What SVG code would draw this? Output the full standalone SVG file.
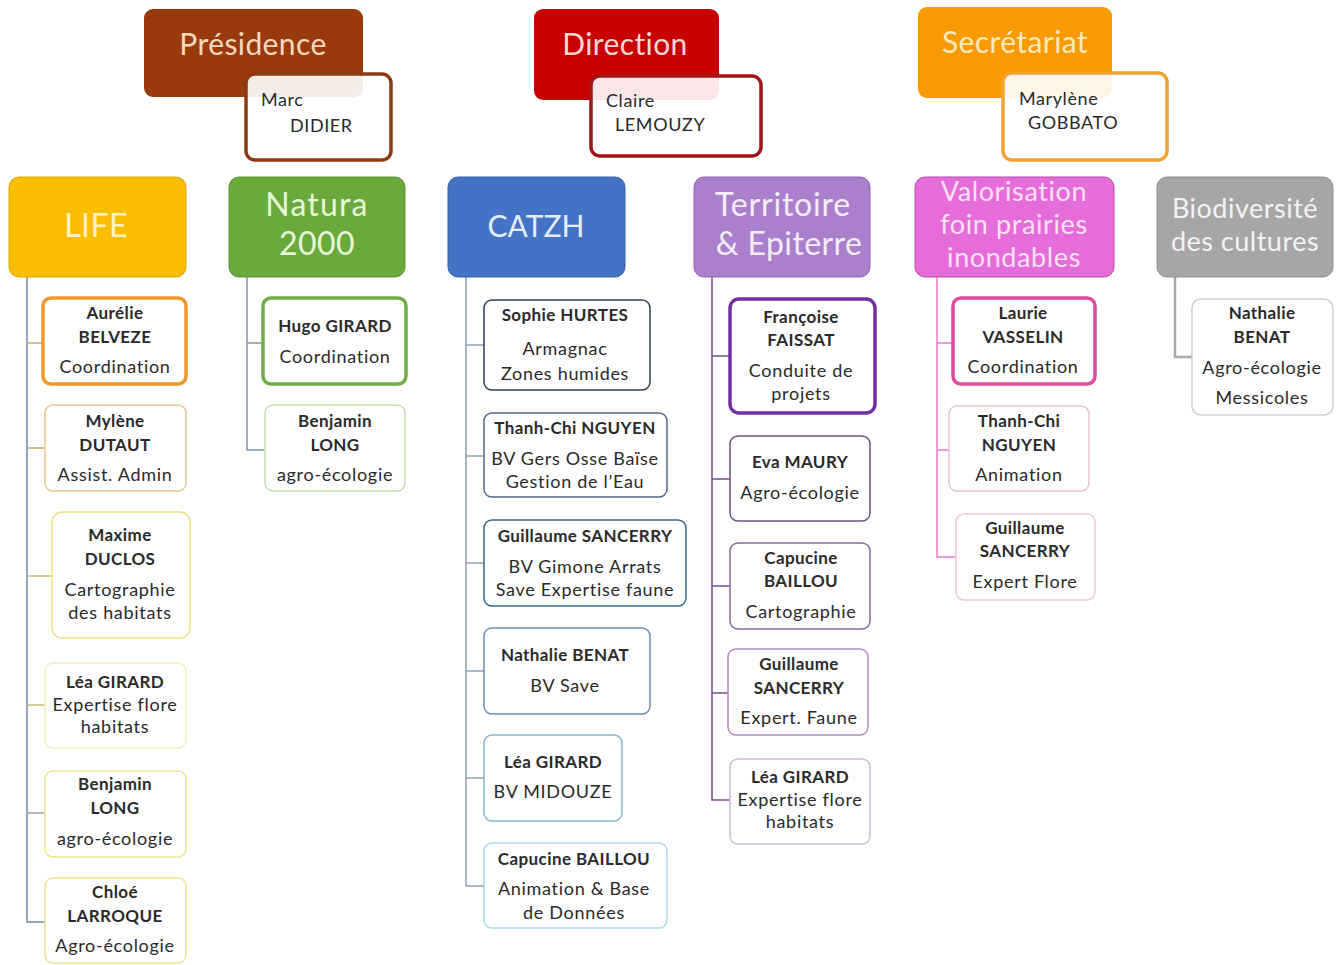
<svg xmlns="http://www.w3.org/2000/svg" width="1341" height="965" viewBox="0 0 1341 965">
<style>
text{font-family:Lato,"Liberation Sans",sans-serif;}
.h{fill:#fff;font-size:30px;text-anchor:middle;letter-spacing:0.4px;}
.t{font-size:18px;fill:#2a2a2a;text-anchor:middle;letter-spacing:0.7px;}
.n{font-weight:bold;font-size:17px;letter-spacing:0.4px;}
.tl{font-size:18px;fill:#2a2a2a;letter-spacing:0.6px;}
.box{fill:#fff;stroke-width:1.5;}
.thick{stroke-width:3.5;}
.conn line,.conn polyline{fill:none;stroke-width:1.5;}
</style>
<rect width="1341" height="965" fill="#fff"/>

<g id="presidence">
<rect x="144" y="9" width="219" height="88" rx="9" fill="#9a3a0c"/>
<text class="h" x="253" y="55" style="fill:#f8d8bd">Présidence</text>
<rect x="246" y="74" width="145" height="86" rx="9" fill="#fff" fill-opacity="0.9" stroke="#8b3a12" stroke-width="3.5"/>
<text class="tl" x="261" y="106">Marc</text>
<text class="tl" x="290" y="132">DIDIER</text>
</g>

<g id="direction">
<rect x="534" y="9" width="185" height="91" rx="9" fill="#c80000"/>
<text class="h" x="625" y="55" style="fill:#fbd5d5">Direction</text>
<rect x="591" y="76" width="170" height="80" rx="9" fill="#fff" fill-opacity="0.9" stroke="#a01515" stroke-width="3.5"/>
<text class="tl" x="606" y="107">Claire</text>
<text class="tl" x="615" y="131">LEMOUZY</text>
</g>

<g id="secretariat">
<rect x="918" y="7" width="194" height="91" rx="9" fill="#f89a00"/>
<text class="h" x="1015" y="53" style="fill:#fde8b8">Secrétariat</text>
<rect x="1003" y="73" width="164" height="87" rx="9" fill="#fff" fill-opacity="0.9" stroke="#f0a232" stroke-width="3.5"/>
<text class="tl" x="1019" y="105">Marylène</text>
<text class="tl" x="1028" y="129">GOBBATO</text>
</g>

<g class="conn">
<polyline points="27,277 27,922 45,922" stroke="#6f8aa8"/>
<line x1="27" y1="343" x2="43" y2="343" stroke="#c8a868"/>
<line x1="27" y1="448" x2="45" y2="448" stroke="#c8a868"/>
<line x1="27" y1="576" x2="52" y2="576" stroke="#c8b878"/>
<line x1="27" y1="705" x2="45" y2="705" stroke="#c8b878"/>
<line x1="27" y1="813" x2="45" y2="813" stroke="#a0a0a0"/>

<polyline points="247,277 247,450 265,450" stroke="#7f95b0"/>
<line x1="247" y1="343" x2="263" y2="343" stroke="#8a9a80"/>

<polyline points="466,277 466,886 484,886" stroke="#8aa0b8"/>
<line x1="466" y1="345" x2="484" y2="345" stroke="#8aa0b8"/>
<line x1="466" y1="456" x2="484" y2="456" stroke="#8aa0b8"/>
<line x1="466" y1="563" x2="484" y2="563" stroke="#8aa0b8"/>
<line x1="466" y1="671" x2="484" y2="671" stroke="#8aa0c8"/>
<line x1="466" y1="778" x2="484" y2="778" stroke="#8aa0b8"/>

<polyline points="712,277 712,800 730,800" stroke="#7a4a8c"/>
<line x1="712" y1="356" x2="730" y2="356" stroke="#7a4a8c"/>
<line x1="712" y1="479" x2="730" y2="479" stroke="#7a4a8c"/>
<line x1="712" y1="586" x2="730" y2="586" stroke="#7a4a8c"/>
<line x1="712" y1="693" x2="728" y2="693" stroke="#7a4a8c"/>

<polyline points="937,277 937,557 956,557" stroke="#e37ccc"/>
<line x1="937" y1="343" x2="953" y2="343" stroke="#e37ccc"/>
<line x1="937" y1="450" x2="949" y2="450" stroke="#e37ccc"/>

<polyline points="1175,277 1175,357 1192,357" stroke="#a8a8a8" style="stroke-width:2.5"/>
</g>

<g id="life">
<rect x="9" y="177" width="177" height="100" rx="10" fill="#fbbd00" stroke="#e0a800"/>
<text class="h" x="96" y="237" style="font-size:32px;fill:#fff3c0">LIFE</text>
</g>
<g id="natura">
<rect x="229" y="177" width="176" height="100" rx="10" fill="#6aaa3c" stroke="#5a9430"/>
<text class="h" x="317" y="216" style="font-size:32px;fill:#e6f7d8;letter-spacing:1.2px">Natura</text>
<text class="h" x="317" y="255" style="font-size:32px;fill:#e6f7d8">2000</text>
</g>
<g id="catzh">
<rect x="448" y="177" width="177" height="100" rx="10" fill="#4472c4" stroke="#3a62a8"/>
<text class="h" x="536" y="237" style="font-size:30px;fill:#e4ecfa;letter-spacing:0">CATZH</text>
</g>
<g id="territoire">
<rect x="694" y="177" width="176" height="100" rx="10" fill="#aa80cc" stroke="#9060b0"/>
<text class="h" x="783" y="216" style="font-size:32px;fill:#f3ecfa;letter-spacing:0.8px">Territoire</text>
<text class="h" x="789" y="255" style="font-size:32px;fill:#f3ecfa">&amp; Epiterre</text>
</g>
<g id="valorisation">
<rect x="915" y="177" width="199" height="100" rx="10" fill="#e66cd9" stroke="#b84aa8"/>
<text class="h" x="1014" y="201" style="font-size:27px;fill:#fbe0f6;letter-spacing:0.6px">Valorisation</text>
<text class="h" x="1014" y="234" style="font-size:27px;fill:#fbe0f6;letter-spacing:0.6px">foin prairies</text>
<text class="h" x="1014" y="267" style="font-size:27px;fill:#fbe0f6;letter-spacing:0.6px">inondables</text>
</g>
<g id="biodiversite">
<rect x="1157" y="177" width="176" height="100" rx="10" fill="#a6a6a6" stroke="#909090"/>
<text class="h" x="1245" y="218" style="font-size:27px;fill:#f2f2f2;letter-spacing:0.5px">Biodiversité</text>
<text class="h" x="1245" y="251" style="font-size:27px;fill:#f2f2f2;letter-spacing:0.5px">des cultures</text>
</g>

<!-- LIFE children -->
<g id="belveze">
<rect class="box thick" x="43" y="298" width="143" height="86" rx="8" stroke="#f0962a"/>
<text class="t n" x="115" y="319">Aurélie</text>
<text class="t n" x="115" y="343">BELVEZE</text>
<text class="t" x="115" y="373">Coordination</text>
</g>
<g id="dutaut">
<rect class="box" x="45" y="405" width="141" height="86" rx="8" stroke="#e8c890"/>
<text class="t n" x="115" y="427">Mylène</text>
<text class="t n" x="115" y="451">DUTAUT</text>
<text class="t" x="115" y="481">Assist. Admin</text>
</g>
<g id="duclos">
<rect class="box" x="52" y="512" width="138" height="126" rx="10" stroke="#ece28a"/>
<text class="t n" x="120" y="541">Maxime</text>
<text class="t n" x="120" y="565">DUCLOS</text>
<text class="t" x="120" y="596">Cartographie</text>
<text class="t" x="120" y="619">des habitats</text>
</g>
<g id="girard-life">
<rect class="box" x="45" y="663" width="141" height="85" rx="8" stroke="#f3edc0"/>
<text class="t n" x="115" y="688">Léa GIRARD</text>
<text class="t" x="115" y="711">Expertise flore</text>
<text class="t" x="115" y="733">habitats</text>
</g>
<g id="long-life">
<rect class="box" x="45" y="771" width="141" height="86" rx="8" stroke="#ede58e"/>
<text class="t n" x="115" y="790">Benjamin</text>
<text class="t n" x="115" y="814">LONG</text>
<text class="t" x="115" y="845">agro-écologie</text>
</g>
<g id="larroque">
<rect class="box" x="45" y="878" width="141" height="85" rx="8" stroke="#ede58e"/>
<text class="t n" x="115" y="898">Chloé</text>
<text class="t n" x="115" y="922">LARROQUE</text>
<text class="t" x="115" y="952">Agro-écologie</text>
</g>

<!-- Natura children -->
<g id="hugo">
<rect class="box thick" x="263" y="298" width="143" height="86" rx="8" stroke="#70ad47"/>
<text class="t n" x="335" y="332">Hugo GIRARD</text>
<text class="t" x="335" y="363">Coordination</text>
</g>
<g id="long-natura">
<rect class="box" x="265" y="405" width="140" height="86" rx="8" stroke="#c5e0b0"/>
<text class="t n" x="335" y="427">Benjamin</text>
<text class="t n" x="335" y="451">LONG</text>
<text class="t" x="335" y="481">agro-écologie</text>
</g>

<!-- CATZH children -->
<g id="hurtes">
<rect class="box" x="484" y="300" width="166" height="90" rx="8" stroke="#2f3f55"/>
<text class="t n" x="565" y="321">Sophie HURTES</text>
<text class="t" x="565" y="355">Armagnac</text>
<text class="t" x="565" y="380">Zones humides</text>
</g>
<g id="nguyen-catzh">
<rect class="box" x="484" y="413" width="183" height="84" rx="8" stroke="#506a88"/>
<text class="t n" x="575" y="434">Thanh-Chi NGUYEN</text>
<text class="t" x="575" y="465">BV Gers Osse Baïse</text>
<text class="t" x="575" y="488">Gestion de l’Eau</text>
</g>
<g id="sancerry-catzh">
<rect class="box" x="484" y="520" width="202" height="86" rx="8" stroke="#3a6585"/>
<text class="t n" x="585" y="542">Guillaume SANCERRY</text>
<text class="t" x="585" y="573">BV Gimone Arrats</text>
<text class="t" x="585" y="596">Save Expertise faune</text>
</g>
<g id="benat-catzh">
<rect class="box" x="484" y="628" width="166" height="86" rx="8" stroke="#6a8fb0"/>
<text class="t n" x="565" y="661">Nathalie BENAT</text>
<text class="t" x="565" y="692">BV Save</text>
</g>
<g id="girard-catzh">
<rect class="box" x="484" y="735" width="138" height="86" rx="8" stroke="#8ab4cc"/>
<text class="t n" x="553" y="768">Léa GIRARD</text>
<text class="t" x="553" y="798">BV MIDOUZE</text>
</g>
<g id="baillou-catzh">
<rect class="box" x="484" y="843" width="183" height="85" rx="8" stroke="#a8dce8"/>
<text class="t n" x="574" y="865">Capucine BAILLOU</text>
<text class="t" x="574" y="895">Animation &amp; Base</text>
<text class="t" x="574" y="919">de Données</text>
</g>

<!-- Territoire children -->
<g id="faissat">
<rect class="box thick" x="730" y="299" width="145" height="114" rx="9" stroke="#7030a0"/>
<text class="t n" x="801" y="323">Françoise</text>
<text class="t n" x="801" y="346">FAISSAT</text>
<text class="t" x="801" y="377">Conduite de</text>
<text class="t" x="801" y="400">projets</text>
</g>
<g id="maury">
<rect class="box" x="730" y="436" width="140" height="85" rx="8" stroke="#705080"/>
<text class="t n" x="800" y="468">Eva MAURY</text>
<text class="t" x="800" y="499">Agro-écologie</text>
</g>
<g id="baillou-terr">
<rect class="box" x="730" y="543" width="140" height="86" rx="8" stroke="#8a6a9a"/>
<text class="t n" x="801" y="564">Capucine</text>
<text class="t n" x="801" y="587">BAILLOU</text>
<text class="t" x="801" y="618">Cartographie</text>
</g>
<g id="sancerry-terr">
<rect class="box" x="728" y="649" width="140" height="86" rx="8" stroke="#b48ac4"/>
<text class="t n" x="799" y="670">Guillaume</text>
<text class="t n" x="799" y="694">SANCERRY</text>
<text class="t" x="799" y="724">Expert. Faune</text>
</g>
<g id="girard-terr">
<rect class="box" x="730" y="759" width="140" height="85" rx="8" stroke="#cbbcd3"/>
<text class="t n" x="800" y="783">Léa GIRARD</text>
<text class="t" x="800" y="806">Expertise flore</text>
<text class="t" x="800" y="828">habitats</text>
</g>

<!-- Valorisation children -->
<g id="vasselin">
<rect class="box thick" x="953" y="298" width="142" height="86" rx="8" stroke="#e04a9e"/>
<text class="t n" x="1023" y="319">Laurie</text>
<text class="t n" x="1023" y="343">VASSELIN</text>
<text class="t" x="1023" y="373">Coordination</text>
</g>
<g id="nguyen-val">
<rect class="box" x="949" y="406" width="140" height="85" rx="8" stroke="#e8c0d8"/>
<text class="t n" x="1019" y="427">Thanh-Chi</text>
<text class="t n" x="1019" y="451">NGUYEN</text>
<text class="t" x="1019" y="481">Animation</text>
</g>
<g id="sancerry-val">
<rect class="box" x="956" y="514" width="139" height="86" rx="8" stroke="#f0c8e0"/>
<text class="t n" x="1025" y="534">Guillaume</text>
<text class="t n" x="1025" y="557">SANCERRY</text>
<text class="t" x="1025" y="588">Expert Flore</text>
</g>

<!-- Biodiversité child -->
<g id="benat-bio">
<rect class="box" x="1192" y="299" width="141" height="116" rx="9" stroke="#d0d0d0"/>
<text class="t n" x="1262" y="319">Nathalie</text>
<text class="t n" x="1262" y="343">BENAT</text>
<text class="t" x="1262" y="374">Agro-écologie</text>
<text class="t" x="1262" y="404">Messicoles</text>
</g>
</svg>
